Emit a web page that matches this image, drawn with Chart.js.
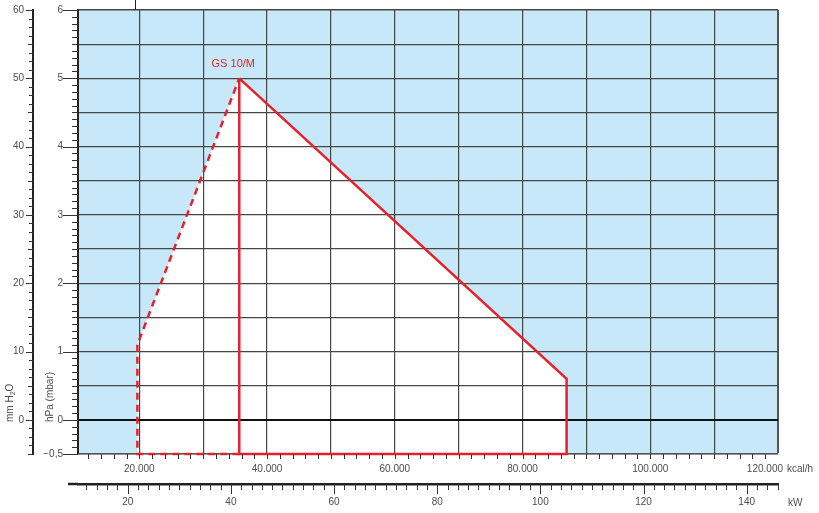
<!DOCTYPE html>
<html>
<head>
<meta charset="utf-8">
<script src="https://cdn.jsdelivr.net/npm/chart.js@4.4.1/dist/chart.umd.min.js"></script>
<style>
  html, body { margin: 0; padding: 0; background: #fff; }
  #wrap { width: 819px; height: 513px; }
</style>
</head>
<body>
<div id="wrap"><canvas id="chart" width="819" height="513"></canvas></div>
<script>
// Axis ranges
const kcalRange = [10400, 120000];
const kwRange = [10.36, 146.07];
const hpaRange = [-0.5, 6];
const mmRange = [-5, 60];

// Tick / grid values
const kcalGrid = [20000, 30000, 40000, 50000, 60000, 70000, 80000, 90000, 100000, 110000, 120000];
const kcalLabels = [20000, 40000, 60000, 80000, 100000];
const kwLabels = [20, 40, 60, 80, 100, 120, 140];
const hpaLabels = [-0.5, 0, 1, 2, 3, 4, 5, 6];
const mmLabels = [0, 10, 20, 30, 40, 50, 60];

// GS 10/M working field: corner points, kcal/h and hPa
const fieldKcal = [19700, 19700, 35650, 86900, 86900];
const fieldHpa = [-0.5, 1.1, 5, 0.6, -0.5];
const fieldName = 'GS 10/M';

const RED = '#e4222d';
const BLUE = '#c6e8f8';
const TXT = '#4d4d4d';
const FONT = '"Liberation Sans", Arial, sans-serif';

const fmtKcal = v => String(v).replace(/\B(?=(\d{3})+(?!\d))/g, '.');
const fmtHpa = v => v < 0 ? '\u2212' + String(-v).replace('.', ',') : String(v);

const pts = (xs, ys) => xs.map((x, i) => ({ x: x, y: ys[i] }));
const peak = { x: fieldKcal[2], y: fieldHpa[2] };
const base = { x: fieldKcal[2], y: fieldHpa[0] };

// keep the plot frame where the picture has it
const noPadY = s => { s.paddingTop = 0; s.paddingBottom = 0; };
const noPadX = s => { s.paddingLeft = 0; s.paddingRight = 0; };

// Extra axis details: minor ticks, titles, units
const extras = {
    id: 'extras',
    afterDraw(chart) {
        const { ctx, chartArea: a, scales } = chart;
        const x = scales.x, kw = scales.kw, y = scales.y, mm = scales.mm;
        ctx.save();
        ctx.strokeStyle = '#333';
        ctx.lineWidth = 1;
        const line = (x0, y0, x1, y1) => {
            ctx.beginPath(); ctx.moveTo(x0, y0); ctx.lineTo(x1, y1); ctx.stroke();
        };

        // hPa ticks every 0.1
        for (let i = -5; i <= 60; i++) {
            const py = Math.round(y.getPixelForValue(i / 10)) + 0.5;
            const major = hpaLabels.includes(i / 10);
            line(a.left - (major ? 15 : 6), py, a.left, py);
        }

        // mm H2O ticks
        for (let i = -4; i <= 48; i++) {
            const py = Math.round(mm.getPixelForValue(i * 1.25)) + 0.5;
            const len = i % 8 === 0 ? 7 : (i % 4 === 0 ? 5 : 4);
            line(mm.right - len, py, mm.right, py);
        }

        // kcal/h ticks every 2000
        for (let v = 12000; v < kcalRange[1]; v += 2000) {
            const px = Math.round(x.getPixelForValue(v)) + 0.5;
            line(px, a.bottom, px, a.bottom + 5);
        }

        // kW ticks every 2
        for (let v = 12; v <= 146; v += 2) {
            const px = Math.round(kw.getPixelForValue(v)) + 0.5;
            line(px, kw.top, px, kw.top + (v % 20 === 0 ? 10 : 6));
        }
        ctx.lineWidth = 2.5;
        ctx.strokeStyle = '#222';
        line(a.left - 10, kw.top, a.left, kw.top);

        // small mark above the frame
        ctx.lineWidth = 1;
        line(a.left + 57.5, 0, a.left + 57.5, a.top);

        // axis titles
        ctx.fillStyle = TXT;
        ctx.font = '10px ' + FONT;
        ctx.textBaseline = 'alphabetic';
        ctx.textAlign = 'left';
        ctx.save();
        ctx.translate(y.left + 20, 422);
        ctx.rotate(-Math.PI / 2);
        ctx.fillText('hPa (mbar)', 0, 0);
        ctx.restore();

        ctx.save();
        ctx.translate(12.5, 422);
        ctx.rotate(-Math.PI / 2);
        let w = 0;
        ctx.fillText('mm H', 0, 0);
        w += ctx.measureText('mm H').width;
        ctx.font = '7px ' + FONT;
        ctx.fillText('2', w, 2.5);
        w += ctx.measureText('2').width;
        ctx.font = '10px ' + FONT;
        ctx.fillText('O', w, 0);
        ctx.restore();

        // last kcal label and units
        ctx.textBaseline = 'middle';
        ctx.textAlign = 'right';
        ctx.fillText(fmtKcal(kcalRange[1]), a.right + 5, a.bottom + 15.5);
        ctx.textAlign = 'left';
        ctx.fillText('kcal/h', a.right + 9, a.bottom + 15.5);
        ctx.fillText('kW', a.right + 10, kw.top + 19);

        // field name
        ctx.fillStyle = RED;
        ctx.font = '11px ' + FONT;
        ctx.textAlign = 'center';
        ctx.fillText(fieldName, x.getPixelForValue(peak.x) - 6, y.getPixelForValue(peak.y) - 14.5);
        ctx.restore();
    }
};

const chart = new Chart(document.getElementById('chart'), {
    type: 'scatter',
    data: {
        datasets: [
            {
                // white working field
                data: pts(fieldKcal, fieldHpa),
                showLine: true,
                borderWidth: 0,
                pointRadius: 0,
                backgroundColor: '#ffffff',
                fill: { value: hpaRange[0] },
                xAxisID: 'x', yAxisID: 'y'
            },
            {
                // blue background of the plot
                data: pts(kcalRange, [hpaRange[1], hpaRange[1]]),
                showLine: true,
                borderWidth: 0,
                pointRadius: 0,
                backgroundColor: BLUE,
                fill: { value: hpaRange[0] },
                xAxisID: 'x', yAxisID: 'y'
            },
            {
                // dashed limit
                data: [base, { x: fieldKcal[0], y: fieldHpa[0] }, { x: fieldKcal[1], y: fieldHpa[1] }, peak],
                showLine: true,
                borderColor: RED,
                borderWidth: 2.5,
                borderDash: [7, 5],
                pointRadius: 0,
                fill: false,
                clip: false,
                xAxisID: 'x', yAxisID: 'y'
            },
            {
                // solid limit
                data: [peak, base, { x: fieldKcal[4], y: fieldHpa[4] }, { x: fieldKcal[3], y: fieldHpa[3] }, peak],
                showLine: true,
                borderColor: RED,
                borderWidth: 2.5,
                borderJoinStyle: 'miter',
                pointRadius: 0,
                fill: false,
                clip: false,
                xAxisID: 'x', yAxisID: 'y'
            }
        ]
    },
    options: {
        responsive: false,
        animation: false,
        devicePixelRatio: 1,
        layout: { padding: { top: 10, right: 41, left: 0, bottom: 0 } },
        plugins: {
            legend: { display: false },
            tooltip: { enabled: false },
            filler: { drawTime: 'beforeDraw' }
        },
        scales: {
            x: {
                type: 'linear',
                position: 'bottom',
                weight: 0,
                min: kcalRange[0],
                max: kcalRange[1],
                afterFit: s => { s.height = 30; noPadX(s); },
                afterBuildTicks: s => { s.ticks = kcalGrid.map(v => ({ value: v })); },
                ticks: {
                    autoSkip: false,
                    maxRotation: 0,
                    padding: 9,
                    color: TXT,
                    font: { family: FONT, size: 10 },
                    callback: v => kcalLabels.includes(v) ? fmtKcal(v) : ''
                },
                grid: {
                    drawTicks: false,
                    color: c => c.tick && c.tick.value === kcalRange[1] ? '#555' : '#474747',
                    lineWidth: c => c.tick && c.tick.value === kcalRange[1] ? 2 : 1.2
                },
                border: { color: '#555', width: 1.5 }
            },
            kw: {
                type: 'linear',
                position: 'bottom',
                weight: 1,
                min: kwRange[0],
                max: kwRange[1],
                afterFit: s => { s.height = 29; noPadX(s); },
                afterBuildTicks: s => { s.ticks = kwLabels.map(v => ({ value: v })); },
                ticks: {
                    autoSkip: false,
                    maxRotation: 0,
                    padding: 12,
                    color: TXT,
                    font: { family: FONT, size: 10 }
                },
                grid: { drawOnChartArea: false, drawTicks: false },
                border: { color: '#222', width: 2.5 }
            },
            y: {
                type: 'linear',
                position: 'left',
                weight: 0,
                min: hpaRange[0],
                max: hpaRange[1],
                afterFit: s => { s.width = 45; noPadY(s); },
                ticks: {
                    stepSize: 0.5,
                    padding: 15,
                    color: TXT,
                    font: { family: FONT, size: 10 },
                    callback: v => hpaLabels.includes(v) ? fmtHpa(v) : ''
                },
                grid: {
                    drawTicks: false,
                    color: c => c.tick && c.tick.value === 0 ? '#111' : '#474747',
                    lineWidth: c => c.tick && c.tick.value === 0 ? 2 : (c.tick && c.tick.value === hpaRange[1] ? 1.5 : 1.2)
                },
                border: { color: '#222', width: 2 }
            },
            mm: {
                type: 'linear',
                position: 'left',
                weight: 1,
                min: mmRange[0],
                max: mmRange[1],
                afterFit: s => { s.width = 33; noPadY(s); },
                afterBuildTicks: s => { s.ticks = mmLabels.map(v => ({ value: v })); },
                ticks: {
                    padding: 9,
                    color: TXT,
                    font: { family: FONT, size: 10 }
                },
                grid: { drawOnChartArea: false, drawTicks: false },
                border: { color: '#222', width: 2 }
            }
        }
    },
    plugins: [extras]
});
</script>
</body>
</html>
